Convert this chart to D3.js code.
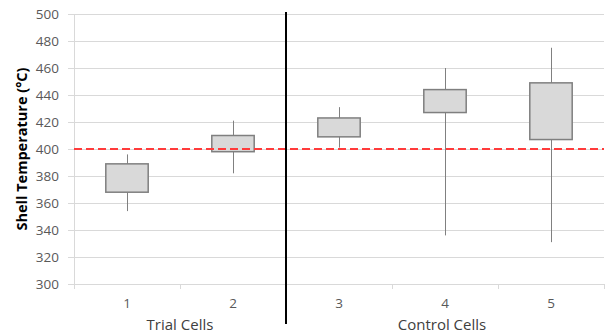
<!DOCTYPE html>
<html>
<head>
<meta charset="utf-8">
<script src="https://cdn.jsdelivr.net/npm/d3@7"></script>
<style>
  body { margin: 0; background: #fff; }
  text { font-family: "Open Sans", sans-serif; }
</style>
</head>
<body>
<script>
// box plot data
const cells = ['1', '2', '3', '4', '5']
const lows = [354, 382, 401, 336, 331]
const q1s = [368, 398, 409, 427, 407]
const q3s = [389, 410, 423, 444, 449]
const highs = [396, 421, 431, 460, 475]
const groups = [
  { name: 'Trial Cells', from: '1', to: '2' },
  { name: 'Control Cells', from: '3', to: '5' },
]
const limit = 400
const yTicks = d3.range(300, 501, 20)

const width = 605
const height = 335
const margin = { top: 14, right: 1, bottom: 51, left: 74 }

const svg = d3.select('body').append('svg').attr('width', width).attr('height', height)

const x = d3
  .scaleBand()
  .domain(cells)
  .range([margin.left, width - margin.right])
  .paddingInner(0)
  .paddingOuter(0)
const y = d3
  .scaleLinear()
  .domain([300, 500])
  .range([height - margin.bottom, margin.top])

// grid
svg
  .append('g')
  .selectAll('line')
  .data(yTicks)
  .enter()
  .append('line')
  .attr('x1', margin.left - 6)
  .attr('x2', width - margin.right)
  .attr('y1', (d) => Math.round(y(d)) + 0.5)
  .attr('y2', (d) => Math.round(y(d)) + 0.5)
  .attr('stroke', '#d9d9d9')
  .attr('stroke-width', 1)

// left axis line
svg
  .append('line')
  .attr('x1', margin.left + 0.5)
  .attr('x2', margin.left + 0.5)
  .attr('y1', y(500))
  .attr('y2', y(300))
  .attr('stroke', '#d9d9d9')

// y tick labels
svg
  .append('g')
  .selectAll('text')
  .data(yTicks)
  .enter()
  .append('text')
  .attr('x', margin.left - 15)
  .attr('y', (d) => y(d))
  .attr('dy', '0.35em')
  .attr('text-anchor', 'end')
  .attr('font-size', 13.5)
  .attr('fill', '#595959')
  .text((d) => d)

// bottom tick marks between categories
const bounds = cells.map((c) => x(c)).concat([x(cells[cells.length - 1]) + x.bandwidth()])
svg
  .append('g')
  .selectAll('line')
  .data(bounds)
  .enter()
  .append('line')
  .attr('x1', (d) => Math.round(d) + 0.5)
  .attr('x2', (d) => Math.round(d) + 0.5)
  .attr('y1', y(300))
  .attr('y2', y(300) + 5)
  .attr('stroke', '#d9d9d9')

// x labels
svg
  .append('g')
  .selectAll('text')
  .data(cells)
  .enter()
  .append('text')
  .attr('x', (d) => x(d) + x.bandwidth() / 2)
  .attr('y', 308)
  .attr('text-anchor', 'middle')
  .attr('font-size', 13.5)
  .attr('fill', '#595959')
  .text((d) => d)

svg
  .append('g')
  .selectAll('text')
  .data(groups)
  .enter()
  .append('text')
  .attr('x', (g) => (x(g.from) + x(g.to) + x.bandwidth()) / 2 + (g.from === '3' ? -3 : 0))
  .attr('y', 330)
  .attr('text-anchor', 'middle')
  .attr('font-size', 15)
  .attr('fill', '#404040')
  .text((g) => g.name)

// y title
svg
  .append('text')
  .attr('transform', `translate(27,${(y(300) + y(500)) / 2}) rotate(-90)`)
  .attr('text-anchor', 'middle')
  .attr('font-size', 14.5)
  .attr('font-weight', 'bold')
  .attr('fill', '#000')
  .text('Shell Temperature (°C)')

// whiskers
const bw = x.bandwidth() * 0.4
svg
  .append('g')
  .selectAll('line')
  .data(cells)
  .enter()
  .append('line')
  .attr('x1', (d) => Math.round(x(d) + x.bandwidth() / 2) + 0.5)
  .attr('x2', (d) => Math.round(x(d) + x.bandwidth() / 2) + 0.5)
  .attr('y1', (d, i) => y(highs[i]))
  .attr('y2', (d, i) => y(lows[i]))
  .attr('stroke', '#808080')
  .attr('stroke-width', 1)

// boxes
svg
  .append('g')
  .selectAll('rect')
  .data(cells)
  .enter()
  .append('rect')
  .attr('x', (d) => x(d) + x.bandwidth() / 2 - bw / 2)
  .attr('width', bw)
  .attr('y', (d, i) => y(q3s[i]))
  .attr('height', (d, i) => y(q1s[i]) - y(q3s[i]))
  .attr('fill', '#d9d9d9')
  .attr('stroke', '#7f7f7f')
  .attr('stroke-width', 1.5)

// 400 limit
svg
  .append('line')
  .attr('x1', margin.left)
  .attr('x2', width - margin.right)
  .attr('y1', y(limit))
  .attr('y2', y(limit))
  .attr('stroke', '#ff3b3b')
  .attr('stroke-width', 2)
  .attr('stroke-dasharray', '8,4')

// divider between trial and control
const split = x(groups[1].from)
svg
  .append('line')
  .attr('x1', split)
  .attr('x2', split)
  .attr('y1', 12)
  .attr('y2', 324)
  .attr('stroke', '#000')
  .attr('stroke-width', 2)
</script>
</body>
</html>
